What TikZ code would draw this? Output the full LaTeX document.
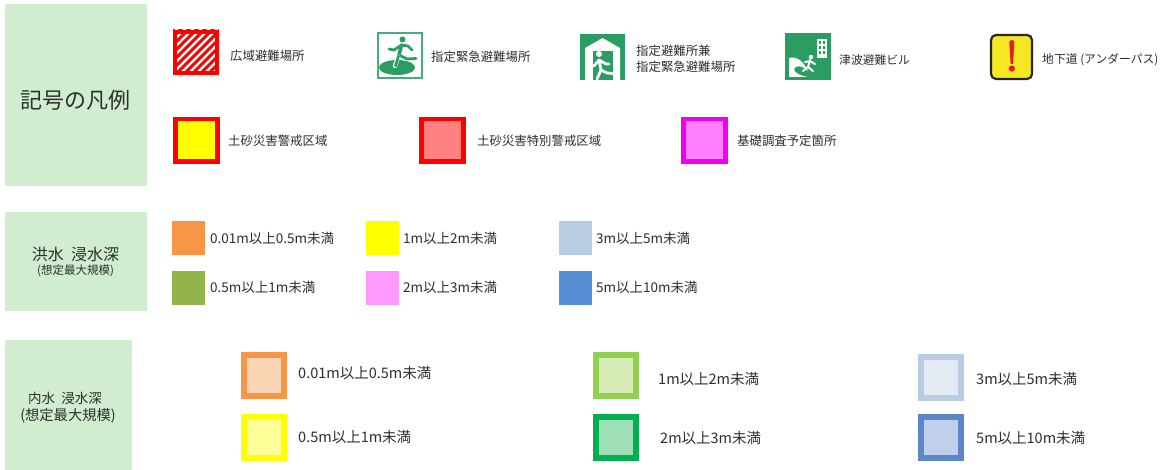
\documentclass[tikz,border=0pt]{standalone}
\usepackage{fontspec}
\setmainfont{Noto Sans CJK JP}
\definecolor{panel}{HTML}{D0EDD0}
\definecolor{sign}{HTML}{2A9D63}
\definecolor{signl}{HTML}{45AE7C}
\definecolor{ink}{HTML}{2E2E2E}
\definecolor{sRed}{HTML}{FF0000}
\definecolor{sRedL}{HTML}{FF8080}
\definecolor{sYellow}{HTML}{FFFF00}
\definecolor{sYellowL}{HTML}{FFFF99}
\definecolor{sMag}{HTML}{F000F0}
\definecolor{sMagL}{HTML}{FF80FF}
\definecolor{sOrange}{HTML}{F79646}
\definecolor{sOrangeL}{HTML}{FCD5B5}
\definecolor{sOlive}{HTML}{92B44A}
\definecolor{sBlueL}{HTML}{B8CCE4}
\definecolor{sBlueXL}{HTML}{E3EAF3}
\definecolor{sBlue}{HTML}{558ED5}
\definecolor{sBlueM}{HTML}{5B86C8}
\definecolor{sBlueF}{HTML}{C0D0EC}
\definecolor{sPink}{HTML}{FF99FF}
\definecolor{sGreenL}{HTML}{92D050}
\definecolor{sGreenLL}{HTML}{D7EBB5}
\definecolor{sGreen}{HTML}{00B050}
\definecolor{sGreenF}{HTML}{9FDFB8}
\definecolor{warnY}{HTML}{F5E823}
\definecolor{warnR}{HTML}{E02020}
\tikzset{
  panelbox/.style={fill=panel,draw=none},
  lab/.style={anchor=west,inner sep=0pt,text=ink,font=\fontsize{12.4}{16}\selectfont},
  labs/.style={anchor=west,inner sep=0pt,text=ink,font=\fontsize{13.5}{15}\selectfont},
  labm/.style={anchor=west,inner sep=0pt,text=ink,font=\fontsize{14.5}{16}\selectfont},
  limb/.style={line width=2.8pt,line cap=round,line join=round},
}
\newcommand{\swatch}[3]{\fill[#1] (#2,#3) rectangle ++(33,34);}
\newcommand{\framed}[4]{\draw[line width=4.5pt,draw=#1,fill=#2] (#3+2.25,#4+2.25) rectangle ++(42,42.5);}
\newcommand{\framedw}[4]{\draw[line width=6pt,draw=#1,fill=#2] (#3+3,#4+3) rectangle ++(40,41);}
\begin{document}
\begin{tikzpicture}[x=1pt,y=-1pt]
\useasboundingbox (0,0) rectangle (1164,470);
\fill[white] (0,0) rectangle (1164,470);
% panels
\fill[panelbox] (5,4) rectangle (147,186);
\node[text=ink,font=\fontsize{22}{24}\selectfont] (t1) at (75.5,100) {記号の凡例};
\fill[panelbox] (5,212) rectangle (147,311);
\node[text=ink,font=\fontsize{16}{18}\selectfont] (t2) at (75.5,254) {洪水\ \ 浸水深};
\node[text=ink,font=\fontsize{11.5}{13}\selectfont] (t2b) at (75.5,271) {(想定最大規模)};
\fill[panelbox] (5,340) rectangle (132,470);
\node[text=ink,font=\fontsize{13.5}{15}\selectfont] (t3) at (65,398) {内水\ \ 浸水深};
\node[text=ink,font=\fontsize{14.3}{16}\selectfont] (t3b) at (68,416) {(想定最大規模)};
% hatched
\begin{scope}
\clip (173,30) rectangle (219,75);
\foreach \i in {0,8,...,104}{\draw[sRed,line width=3pt] (126+\i,76) -- ++(48,-48);}
\end{scope}
\draw[sRed,line width=4.5pt] (175.2,32.2) rectangle (216.8,72.8);
\node[lab] (a1) at (230,56) {広域避難場所};
% emergency site sign
\draw[signl,line width=2pt] (378,33) rectangle (422,78);
\fill[sign] (397,67.5) ellipse (18 and 7.5);
\fill[sign] (402.5,39.5) circle (3);
\draw[limb,sign,line width=3.6pt] (401.5,45) -- (399,55);
\draw[limb,sign] (401,45) -- (408,46) -- (412,50) (400,46) -- (394,50) -- (389,49)
  (399,55) -- (407,59) -- (416,58.5);
\draw[limb,white,line width=4.4pt] (398,57) -- (395,66);
\draw[limb,sign] (398.5,56) -- (395.5,66);
\node[lab] (a2) at (431,56.5) {指定緊急避難場所};
% shelter sign
\fill[sign] (580,34) rectangle (625,80);
\fill[white] (585,48) -- (602.5,38) -- (620,48) -- (620,80) -- (585,80) -- cycle;
\fill[sign] (593,51) rectangle (613,80);
\fill[white] (599,54) circle (3);
\draw[limb,white] (599,60) -- (601,70) (599,60) -- (594,66) (599,60) -- (606,64) -- (609,64)
  (601,70) -- (607,73) -- (613,73.5) (601,70) -- (597,79);
\node[lab,align=left] (a3) at (636,59) {指定避難所兼\\指定緊急避難場所};
% tsunami sign
\fill[sign] (785,33) rectangle (831,80);
\fill[white] (817,39) rectangle (827,58);
\foreach \xx in {818.8,822.8}\foreach \yy in {41,46,51}{\fill[sign] (\xx,\yy) rectangle ++(2.6,3);}
\fill[white] (789,58) .. controls (797,56) and (803,61) .. (808,71) .. controls (802,65) and (796,65) .. (794,69) .. controls (794,73) and (801,76) .. (808,77) -- (789,77) -- cycle;
\fill[white] (811,57) circle (2.2);
\draw[limb,white,line width=2pt] (810,60) -- (808,67) (810,61) -- (805,62) (810,61) -- (815,64) (808,67) -- (813,71) (808,67) -- (803,71);
\node[lab,font=\fontsize{11.8}{14}\selectfont] (a4) at (839,60) {津波避難ビル};
% underpass sign
\draw[black!85,line width=2.2pt,fill=warnY,rounded corners=5pt] (991,35) rectangle (1032,79);
\fill[warnR] (1009.3,42) .. controls (1009.3,39.5) and (1014.3,39.5) .. (1014.3,42) -- (1013,64) -- (1010.6,64) -- cycle;
\fill[warnR] (1011.8,68.5) circle (3.1);
\node[lab,font=\fontsize{11.8}{14}\selectfont] (a5) at (1042,60) {地下道 (アンダーパス)};
% hazard boxes
\framed{sRed}{sYellow}{173}{117}
\node[lab] (b1) at (228,141) {土砂災害警戒区域};
\framed{sRed}{sRedL}{419}{117}
\node[lab] (b2) at (477,141) {土砂災害特別警戒区域};
\framed{sMag}{sMagL}{681}{117}
\node[lab] (b3) at (737,141) {基礎調査予定箇所};
% flood
\swatch{sOrange}{172}{221}
\swatch{sOlive}{172}{271}
\swatch{sYellow}{366}{221}
\swatch{sPink}{366}{271}
\swatch{sBlueL}{559}{221}
\swatch{sBlue}{559}{271}
\node[labs] (c1) at (210,238) {0.01m以上0.5m未満};
\node[labs] (c2) at (210,287) {0.5m以上1m未満};
\node[labs] (c3) at (403,238) {1m以上2m未満};
\node[labs] (c4) at (403,287) {2m以上3m未満};
\node[labs] (c5) at (596,238) {3m以上5m未満};
\node[labs] (c6) at (596,287) {5m以上10m未満};
% inland
\framedw{sOrange}{sOrangeL}{241}{352}
\framedw{sYellow}{sYellowL}{241}{414}
\framedw{sGreenL}{sGreenLL}{593}{352}
\framedw{sGreen}{sGreenF}{593}{414}
\framedw{sBlueL}{sBlueXL}{918}{354}
\framedw{sBlueM}{sBlueF}{918}{414}
\node[labm] (d1) at (298,373) {0.01m以上0.5m未満};
\node[labm] (d2) at (298,437) {0.5m以上1m未満};
\node[labm] (d3) at (658,379) {1m以上2m未満};
\node[labm] (d4) at (660,438) {2m以上3m未満};
\node[labm] (d5) at (976,379) {3m以上5m未満};
\node[labm] (d6) at (976,438) {5m以上10m未満};
\end{tikzpicture}
\end{document}
